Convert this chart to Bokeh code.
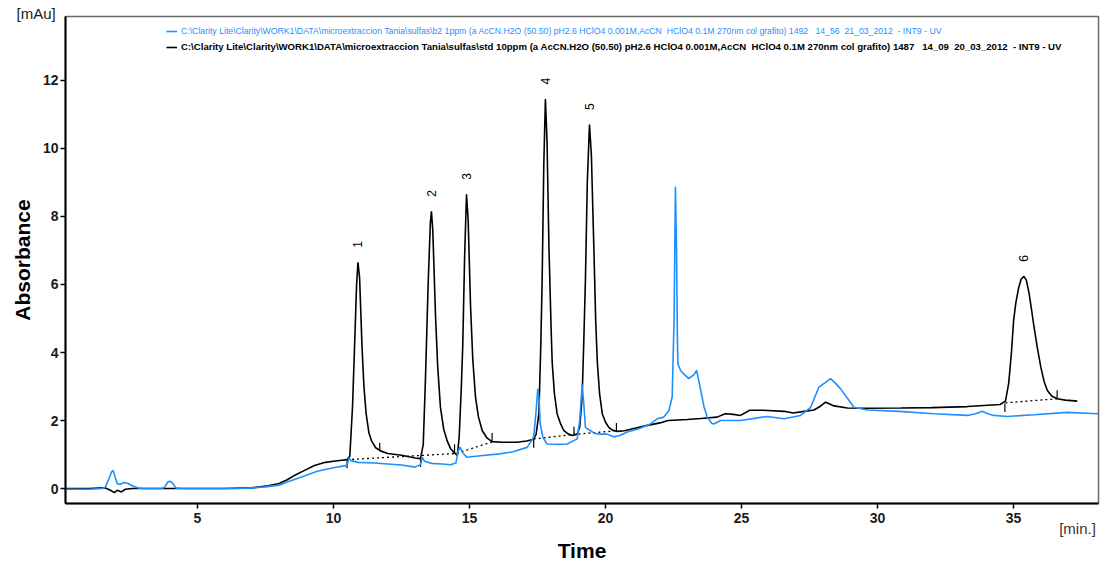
import math
from bokeh.plotting import figure
from bokeh.models import (Range1d, Legend, LegendItem, Title, ColumnDataSource,
                          FixedTicker, LinearAxis)
from bokeh.core.properties import value
from bokeh.embed import file_html
from bokeh.resources import INLINE

# ---------------- data ----------------
BLUE_NAME = ("C:\\Clarity Lite\\Clarity\\WORK1\\DATA\\microextraccion Tania\\sulfas\\b2 1ppm "
             "(a AcCN.H2O (50.50) pH2.6 HClO4 0.001M,AcCN  HClO4 0.1M 270nm col grafito) 1492   "
             "14_56  21_03_2012  - INT9 - UV")
BLACK_NAME = ("C:\\Clarity Lite\\Clarity\\WORK1\\DATA\\microextraccion Tania\\sulfas\\std 10ppm "
              "(a AcCN.H2O (50.50) pH2.6 HClO4 0.001M,AcCN  HClO4 0.1M 270nm col grafito) 1487   "
              "14_09  20_03_2012  - INT9 - UV")

# std 10ppm (black)
std_time = [0.15, 1.0, 1.6, 1.8, 1.95, 2.05, 2.2, 2.35, 2.6, 4.0, 6.0, 7.0, 7.6, 8.0, 8.3,
            8.6, 8.9, 9.3, 9.7, 10.0, 10.3, 10.5, 10.6, 10.7, 10.78, 10.85, 10.9, 10.96,
            11.05, 11.12, 11.2, 11.3, 11.4, 11.55, 11.75, 12.0, 12.5, 13.0, 13.2, 13.3,
            13.38, 13.48, 13.56, 13.6, 13.65, 13.75, 13.83, 13.93, 14.05, 14.18, 14.3,
            14.42, 14.55, 14.62, 14.7, 14.75, 14.82, 14.89, 14.95, 15.04, 15.12, 15.22,
            15.33, 15.47, 15.65, 15.83, 16.2, 16.75, 17.1, 17.36, 17.45, 17.55, 17.62,
            17.67, 17.73, 17.79, 17.85, 17.92, 18.0, 18.04, 18.12, 18.22, 18.35, 18.47,
            18.6, 18.77, 18.96, 19.05, 19.14, 19.2, 19.26, 19.33, 19.41, 19.48, 19.57,
            19.64, 19.7, 19.78, 19.88, 20.0, 20.12, 20.25, 20.43, 20.7, 21.0, 21.5, 22.0,
            22.3, 23.0, 23.5, 24.1, 24.4, 24.7, 24.96, 25.3, 25.8, 26.56, 26.9, 27.3,
            27.66, 27.9, 28.09, 28.2, 28.4, 28.89, 29.5, 30.85, 32.0, 33.3, 34.5, 34.7,
            34.82, 34.92, 35.0, 35.08, 35.19, 35.28, 35.38, 35.47, 35.57, 35.66, 35.75,
            35.88, 36.0, 36.12, 36.24, 36.4, 36.6, 36.9, 37.34]
std_abs = [0.0, 0.0, 0.02, -0.05, -0.12, -0.05, -0.1, -0.02, 0.0, 0.0, 0.0, 0.02, 0.08,
           0.15, 0.26, 0.4, 0.52, 0.68, 0.77, 0.8, 0.83, 0.85, 0.95, 2.4, 4.3, 6.0, 6.65,
           6.2, 4.15, 3.0, 2.2, 1.65, 1.4, 1.2, 1.1, 1.03, 0.98, 0.9, 0.88, 1.3, 3.2, 6.0,
           7.8, 8.15, 7.6, 5.1, 3.6, 2.4, 1.75, 1.4, 1.18, 1.07, 0.97, 1.5, 3.0, 4.15, 6.8,
           8.65, 7.9, 5.33, 3.8, 2.69, 2.1, 1.7, 1.48, 1.38, 1.36, 1.36, 1.4, 1.45, 1.6,
           2.2, 4.2, 6.1, 9.5, 11.45, 10.2, 7.1, 4.7, 3.7, 2.8, 2.2, 1.9, 1.7, 1.62, 1.56,
           1.6, 1.8, 2.69, 4.3, 6.1, 9.0, 10.7, 9.8, 7.1, 4.9, 3.7, 2.8, 2.2, 1.95, 1.8,
           1.72, 1.68, 1.7, 1.76, 1.85, 1.93, 2.0, 2.03, 2.06, 2.1, 2.2, 2.18, 2.15, 2.3,
           2.3, 2.27, 2.22, 2.27, 2.31, 2.42, 2.54, 2.5, 2.43, 2.37, 2.36, 2.37, 2.38,
           2.41, 2.47, 2.57, 3.1, 4.0, 4.94, 5.45, 5.92, 6.16, 6.24, 6.12, 5.73, 5.25,
           4.75, 4.1, 3.57, 3.15, 2.88, 2.72, 2.64, 2.6, 2.57]

# b2 1ppm (blue)
b2_time = [0.15, 1.0, 1.5, 1.62, 1.75, 1.85, 1.9, 1.97, 2.05, 2.15, 2.3, 2.45, 2.6, 2.8,
           3.0, 3.7, 3.8, 3.92, 4.0, 4.1, 4.2, 4.4, 6.5, 7.0, 7.5, 8.0, 8.3, 8.8, 9.4,
           10.0, 10.5, 10.57, 10.65, 10.9, 11.5, 12.0, 12.5, 13.0, 13.2, 13.26, 13.35,
           13.6, 14.0, 14.3, 14.5, 14.58, 14.65, 14.75, 14.9, 15.5, 16.1, 16.6, 17.12,
           17.36, 17.45, 17.51, 17.56, 17.6, 17.7, 17.85, 18.2, 18.59, 18.96, 19.05,
           19.14, 19.2, 19.26, 19.45, 19.6, 19.82, 20.06, 20.3, 20.5, 20.8, 21.2, 21.65,
           21.9, 22.14, 22.33, 22.45, 22.52, 22.57, 22.61, 22.64, 22.66, 22.76, 22.9,
           23.06, 23.25, 23.35, 23.5, 23.62, 23.74, 23.9, 23.98, 24.23, 24.96, 25.94,
           26.56, 27.17, 27.54, 27.84, 28.05, 28.27, 28.45, 28.64, 28.9, 29.13, 29.62,
           30.8, 32.07, 33.3, 33.6, 33.85, 34.05, 34.27, 34.77, 35.75, 36.97, 38.1]
b2_abs = [-0.02, -0.02, 0.0, 0.05, 0.3, 0.5, 0.53, 0.35, 0.15, 0.12, 0.18, 0.15, 0.08,
          0.02, 0.0, 0.0, 0.05, 0.2, 0.21, 0.15, 0.02, 0.0, 0.0, 0.02, 0.05, 0.1, 0.19,
          0.33, 0.51, 0.61, 0.68, 0.9, 0.82, 0.77, 0.75, 0.72, 0.69, 0.63, 0.7, 0.92, 0.8,
          0.74, 0.72, 0.7, 0.75, 1.1, 1.22, 1.05, 0.92, 0.97, 1.02, 1.08, 1.21, 1.51, 2.3,
          2.93, 2.6, 1.9, 1.5, 1.31, 1.3, 1.31, 1.46, 2.0, 3.06, 2.5, 1.8, 1.7, 1.62, 1.6,
          1.6, 1.52, 1.55, 1.66, 1.75, 1.9, 2.05, 2.1, 2.29, 2.69, 5.0, 8.88, 7.0, 4.5,
          3.67, 3.47, 3.35, 3.23, 3.35, 3.47, 2.88, 2.4, 2.1, 1.92, 1.9, 2.0, 2.0, 2.12,
          2.05, 2.15, 2.39, 2.98, 3.1, 3.23, 3.1, 2.93, 2.65, 2.39, 2.31, 2.27, 2.2, 2.15,
          2.2, 2.27, 2.2, 2.15, 2.12, 2.17, 2.24, 2.2]

# integration baselines (dotted) for the std trace
base_a_time = [10.5, 14.5, 15.83]
base_a_abs = [0.85, 1.03, 1.37]
base_b_time = [17.36, 18.96, 20.43]
base_b_abs = [1.46, 1.6, 1.7]
base_c_time = [34.7, 36.6]
base_c_abs = [2.52, 2.64]

# peak start / end markers (time, value, direction: 1 up, -1 down)
mark_time = [10.5, 11.7, 13.2, 14.45, 15.83, 17.36, 18.84, 20.4, 34.68, 36.6]
mark_abs = [0.85, 1.1, 0.88, 1.05, 1.38, 1.45, 1.57, 1.68, 2.5, 2.64]
mark_dir = [-1, 1, -1, 1, 1, -1, 1, 1, -1, 1]

# peak numbers
peak_labels = ["1", "2", "3", "4", "5", "6"]
peak_time = [10.9, 13.6, 14.89, 17.79, 19.41, 35.38]
peak_abs = [6.65, 8.15, 8.65, 11.45, 10.7, 6.24]

x_ticks = [5, 10, 15, 20, 25, 30, 35]
y_ticks = [0, 2, 4, 6, 8, 10, 12]
x_unit_pos = 37.35
x_unit_text = "[min.]"
y_unit_text = "[mAu]"

# ---------------- figure ----------------
FONT = "Liberation Sans"
BLUE = "#1e8fff"

p = figure(width=1100, height=565, output_backend="svg", toolbar_location=None,
           x_range=Range1d(0.15, 38.12), y_range=Range1d(-0.44, 13.88),
           min_border_left=65, min_border_right=2, min_border_top=16,
           min_border_bottom=62)
p.grid.visible = False
p.outline_line_color = "#6a6a6a"
p.outline_line_width = 1.5
p.background_fill_color = "white"
p.border_fill_color = "white"

for ax in (p.xaxis[0], p.yaxis[0]):
    ax.axis_line_color = "black"
    ax.axis_line_width = 2
    ax.major_tick_in = 0
    ax.major_tick_out = 5
    ax.major_tick_line_color = "black"
    ax.major_tick_line_width = 1.5
    ax.minor_tick_in = 0
    ax.minor_tick_out = 0
    ax.major_label_text_font = FONT
    ax.major_label_text_font_style = "bold"
    ax.major_label_text_font_size = "14px"
    ax.major_label_text_color = "#1a1a1a"
    ax.axis_label_text_font = FONT
    ax.axis_label_text_font_style = "bold"
    ax.axis_label_text_font_size = "21px"
    ax.axis_label_text_color = "black"

p.xaxis.ticker = FixedTicker(ticks=x_ticks)
p.yaxis.ticker = FixedTicker(ticks=y_ticks)
p.yaxis.axis_label = "Absorbance"
p.xaxis.major_label_standoff = 4
p.yaxis.major_label_standoff = 2
p.yaxis.axis_label_standoff = 6

# second (label-only) x axis carrying the unit text and the axis title
unit_axis = LinearAxis(ticker=FixedTicker(ticks=[x_unit_pos]),
                       major_label_overrides={x_unit_pos: x_unit_text},
                       axis_line_color=None, major_tick_line_color=None,
                       major_tick_in=0, major_tick_out=0,
                       minor_tick_line_color=None, minor_tick_in=0, minor_tick_out=0,
                       major_label_standoff=-6,
                       major_label_text_font=FONT, major_label_text_font_size="15px",
                       major_label_text_color="#333333",
                       axis_label="Time", axis_label_standoff=-1,
                       axis_label_text_font=FONT, axis_label_text_font_style="bold",
                       axis_label_text_font_size="21px", axis_label_text_color="black")
p.add_layout(unit_axis, "below")

p.add_layout(Title(text=y_unit_text, align="left", offset=-49, standoff=-11,
                   text_font=FONT, text_font_size="15px", text_font_style="normal",
                   text_color="#1a1a1a"), "above")

r_std = p.line(std_time, std_abs, line_color="black", line_width=1.6)

src_marks = ColumnDataSource(dict(
    x=mark_time, y0=mark_abs,
    y1=[v + d * 0.25 for v, d in zip(mark_abs, mark_dir)]))
p.segment(x0="x", y0="y0", x1="x", y1="y1", source=src_marks,
          line_color="black", line_width=1.2)

for bt, bv in ((base_a_time, base_a_abs), (base_b_time, base_b_abs),
               (base_c_time, base_c_abs)):
    p.line(bt, bv, line_color="black", line_width=1.3, line_dash="2 3")

r_b2 = p.line(b2_time, b2_abs, line_color=BLUE, line_width=1.6)

p.text(x=peak_time, y=peak_abs, text=peak_labels, angle=math.pi / 2,
       y_offset=-18, text_align="center", text_baseline="middle",
       text_font=value(FONT), text_font_size="12px", text_color="black")


def make_legend(renderer, label, loc, color, style, size):
    leg = Legend(items=[LegendItem(label=label, renderers=[renderer])],
                 location=loc, orientation="vertical",
                 border_line_color=None, background_fill_alpha=0,
                 padding=0, margin=0, spacing=0,
                 glyph_width=11, glyph_height=10, label_height=10,
                 label_standoff=4, label_text_font=FONT,
                 label_text_font_size=size, label_text_color=color,
                 label_text_font_style=style)
    return leg


p.add_layout(make_legend(r_b2, BLUE_NAME, (101, 467), BLUE, "normal", "8.7px"))
p.add_layout(make_legend(r_std, BLACK_NAME, (101, 451), "black", "bold", "9.6px"))

open("out.html", "w").write(file_html(p, INLINE))
